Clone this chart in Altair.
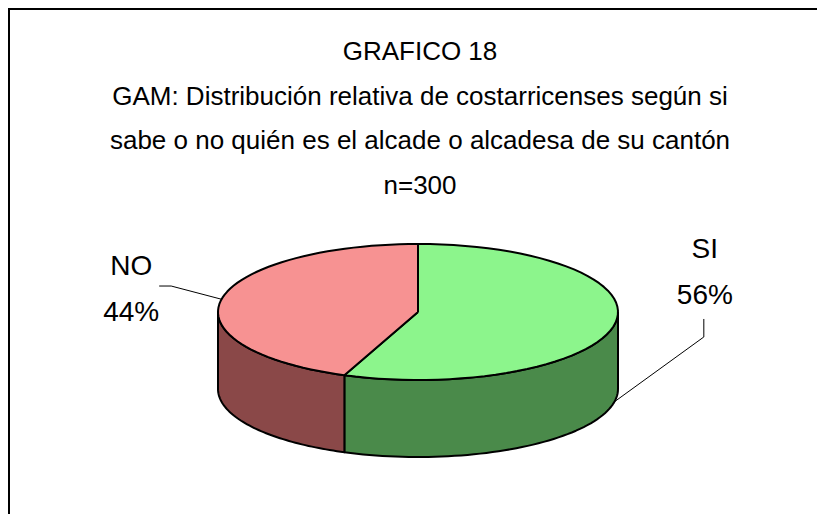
import altair as alt
import pandas as pd

# ---- data ----
categories = ["SI", "NO"]
values = [56, 44]
title_lines = [
    "GRAFICO 18",
    "GAM: Distribución relativa de costarricenses según si",
    "sabe o no quién es el alcade o alcadesa de su cantón",
    "n=300",
]

# ---- styles / layout ----
top_colors = ["#8cf58c", "#f79292"]
side_colors = ["#4a8a4a", "#8a4848"]
FONT = "Liberation Sans, Arial, sans-serif"
W, H = 809, 506
CX, CY, RX, RY, D = 418, 312, 200, 68, 77
N = 60

df = pd.DataFrame({"cat": categories, "value": values})
tdf = pd.DataFrame({"line": title_lines})

xs = alt.Scale(domain=[8, 8 + W], nice=False, zero=False)
ys = alt.Scale(domain=[8, 8 + H], reverse=True, nice=False, zero=False)
X = lambda f: alt.X(f, scale=xs, axis=None)
Y = lambda f: alt.Y(f, scale=ys, axis=None)

base = (
    alt.Chart(df)
    .transform_joinaggregate(total="sum(value)")
    .transform_window(cum="sum(value)", frame=[None, 0])
    .transform_calculate(
        a0="2*PI*(datum.cum - datum.value)/datum.total",
        a1="2*PI*datum.cum/datum.total",
    )
    .transform_calculate(mid="(datum.a0 + datum.a1)/2")
)

# side walls (front half only)
sides = (
    base.transform_calculate(
        s0="max(datum.a0, PI/2)", s1="min(datum.a1, 3*PI/2)", side="datum.cat + ' lado'"
    )
    .transform_filter("datum.s1 > datum.s0")
    .transform_calculate(idx=f"sequence(0, {2 * N + 1})")
    .transform_flatten(["idx"])
    .transform_calculate(
        j=f"datum.idx < {N} ? datum.idx : (datum.idx < {2 * N} ? {2 * N - 1} - datum.idx : 0)"
    )
    .transform_calculate(t=f"datum.s0 + (datum.s1 - datum.s0)*datum.j/{N - 1}")
    .transform_calculate(
        px=f"{CX} + {RX}*sin(datum.t)",
        py=f"{CY} - {RY}*cos(datum.t) + ((datum.idx >= {N} && datum.idx < {2 * N}) ? {D} : 0)",
    )
    .mark_line(stroke="black", strokeWidth=2, strokeJoin="round")
    .encode(
        x=X("px:Q"),
        y=Y("py:Q"),
        detail="cat:N",
        order="idx:Q",
        fill=alt.Fill("cat:N", scale=alt.Scale(domain=categories, range=side_colors), legend=None),
    )
)

# top slices
tops = (
    base.transform_calculate(idx=f"sequence(0, {N + 2})")
    .transform_flatten(["idx"])
    .transform_calculate(
        t=f"datum.a0 + (datum.a1 - datum.a0)*clamp(datum.idx - 1, 0, {N - 1})/{N - 1}"
    )
    .transform_calculate(
        px=f"(datum.idx == 0 || datum.idx == {N + 1}) ? {CX} : {CX} + {RX}*sin(datum.t)",
        py=f"(datum.idx == 0 || datum.idx == {N + 1}) ? {CY} : {CY} - {RY}*cos(datum.t)",
    )
    .mark_line(stroke="black", strokeWidth=2, strokeJoin="round")
    .encode(
        x=X("px:Q"),
        y=Y("py:Q"),
        detail="cat:N",
        order="idx:Q",
        fill=alt.Fill("cat:N", scale=alt.Scale(domain=categories, range=top_colors), legend=None),
    )
)

labels_base = base.transform_calculate(
    lx=f"{CX} + 1.46*{RX}*sin(datum.mid)",
    ly=f"{CY} - 45.5 + 45.5*cos(datum.mid)",
    pct="datum.value + '%'",
)

lab1 = labels_base.mark_text(font=FONT, fontSize=28, baseline="alphabetic", align="center").encode(
    x=X("lx:Q"), y=Y("ly:Q"), text="cat:N"
)
lab2 = labels_base.transform_calculate(ly2="datum.ly + 46").mark_text(
    font=FONT, fontSize=28, baseline="alphabetic", align="center"
).encode(x=X("lx:Q"), y=Y("ly2:Q"), text="pct:N")

leaders = (
    labels_base.transform_calculate(front="cos(datum.mid) < 0")
    .transform_calculate(idx="sequence(0, 3)")
    .transform_flatten(["idx"])
    .transform_calculate(
        qx=(
            f"datum.idx == 0 ? {CX} + {RX}*sin(datum.mid) : "
            "(datum.front ? datum.lx - 1 : (datum.idx == 1 ? datum.lx + 40 : datum.lx + 28))"
        ),
        qy=(
            f"datum.idx == 0 ? {CY} - {RY}*cos(datum.mid) + (datum.front ? {D} : 0) : "
            "(datum.front ? (datum.idx == 1 ? datum.ly + 79 : datum.ly + 61) : datum.ly + 11)"
        ),
    )
    .mark_line(stroke="black", strokeWidth=1)
    .encode(x=X("qx:Q"), y=Y("qy:Q"), detail="cat:N", order="idx:Q")
)

title = (
    alt.Chart(tdf)
    .transform_window(i="row_number()")
    .transform_calculate(ty="60 + (datum.i - 1)*44.7", tx="420")
    .mark_text(font=FONT, fontSize=26, baseline="alphabetic", align="center")
    .encode(x=X("tx:Q"), y=Y("ty:Q"), text="line:N")
)

frame_left = alt.Chart(df).mark_rule(color="black", strokeWidth=2).encode(
    x=alt.value(1), y=alt.value(0), y2=alt.value(H)
)
frame_top = alt.Chart(df).mark_rule(color="black", strokeWidth=2).encode(
    x=alt.value(0), x2=alt.value(W), y=alt.value(1)
)

chart = (
    alt.layer(sides, tops, leaders, lab1, lab2, title, frame_left, frame_top)
    .resolve_scale(fill="independent")
    .properties(width=W, height=H, padding=0, autosize="none", background="white")
    .configure_view(stroke=None)
)

chart.save("out.html", embed_options={"renderer": "svg", "actions": False})
